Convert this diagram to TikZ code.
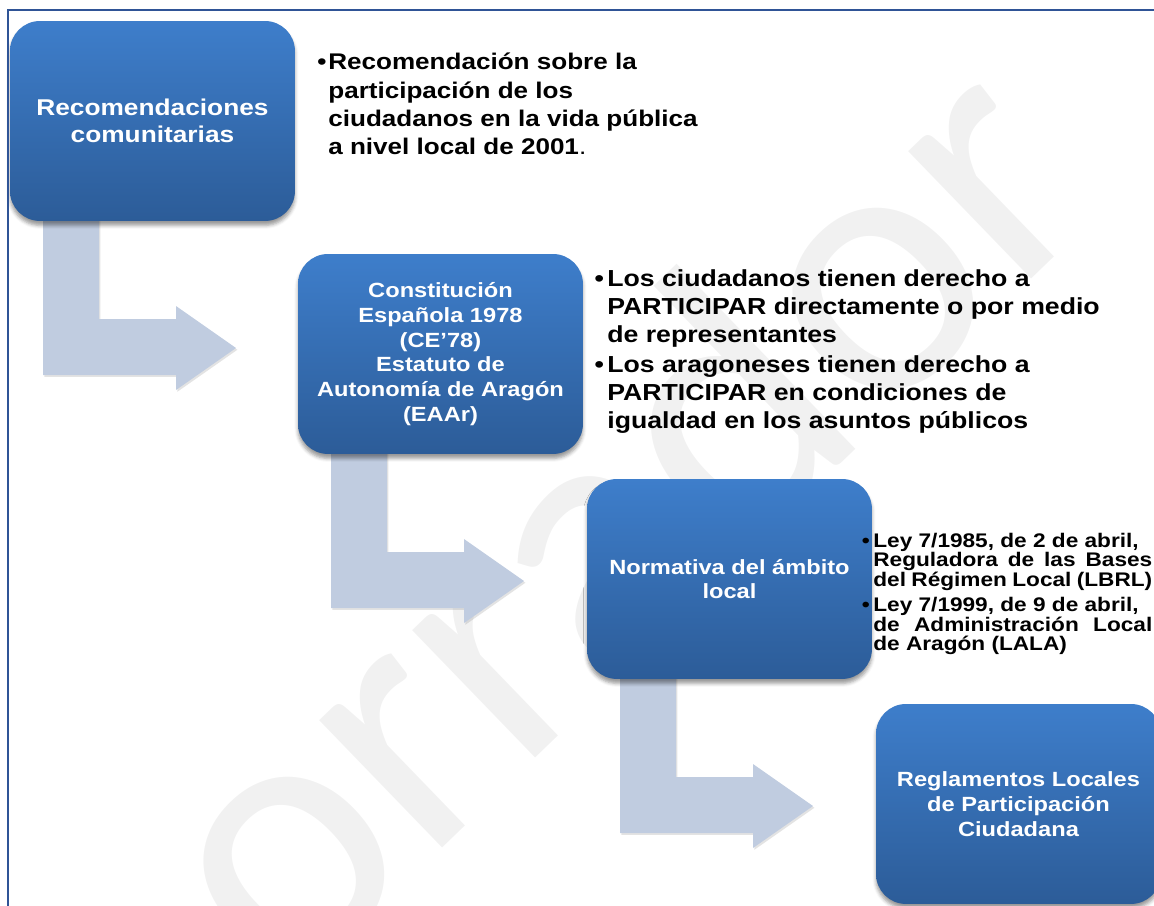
\documentclass[tikz,border=0pt]{standalone}
\usepackage{fontspec}
\usepackage{xcolor}
\usetikzlibrary{calc,shadows,shadows.blur}
\setmainfont{Liberation Sans}
\newfontfamily\arialx[FakeStretch=1.15]{Liberation Sans}
\newfontfamily\wmfont{Carlito}

\definecolor{boxtop}{RGB}{62,126,203}
\definecolor{boxbot}{RGB}{44,92,152}
\definecolor{arrowfill}{RGB}{192,204,224}
\definecolor{framecol}{RGB}{47,84,150}
\definecolor{wmgray}{RGB}{241,241,241}

\newcommand{\jline}[1]{\makebox[5.58cm][s]{#1}}

\begin{document}
\begin{tikzpicture}[x=0.02cm,y=-0.02cm,
    stepbox/.style={anchor=north west, inner sep=0pt, outer sep=0pt,
      minimum width=5.7cm, minimum height=4cm, rounded corners=0.6cm,
      top color=boxtop, bottom color=boxbot, text=white, align=center,
      blur shadow={shadow xshift=0pt, shadow yshift=-2.5pt, shadow blur radius=2pt, shadow opacity=40}},
    bentarrow/.style={fill=arrowfill,
      drop shadow={shadow xshift=0.8pt, shadow yshift=-1pt, opacity=0.22}},
    note/.style={anchor=north west, inner sep=0pt, align=left, text=black}]
		\useasboundingbox (0,0) rectangle (1154,906);
		\clip (0,0) rectangle (1154,906);

		\node[wmgray, rotate=44, anchor=base west, inner sep=0pt,
		  font=\wmfont\fontsize{211}{211}\selectfont] (wmark) at (285,1000) {orrador};% Watermark

		\coordinate (RecomNW) at (10,21);
		\coordinate (ConstNW) at (298,254);
		\coordinate (NormNW)  at (587,479);
		\coordinate (ReglNW)  at (876,704);

		\foreach \c in {RecomNW,ConstNW,NormNW}{% One bent arrow under each box
			\begin{scope}[shift={(\c)}]
				\fill[bentarrow] (33,190) -- (89,190) -- (89,298) -- (166,298) -- (166,285)
				  -- (226,327) -- (166,369) -- (166,354) -- (33,354) -- cycle;
			\end{scope}
		}

		\node[stepbox, font=\arialx\bfseries\fontsize{13}{15.3}\selectfont] (recom) at (RecomNW)
		  {Recomendaciones\\comunitarias};
		\node[stepbox, font=\arialx\bfseries\fontsize{11.7}{14.1}\selectfont] (const) at (ConstNW)
		  {Constitución\\Española 1978\\(CE’78)\\Estatuto de\\Autonomía de Aragón\\(EAAr)};
		\node[stepbox, font=\arialx\bfseries\fontsize{11.7}{14.1}\selectfont] (norm) at (NormNW)
		  {Normativa del ámbito\\local};
		\node[stepbox, font=\arialx\bfseries\fontsize{11.7}{14.1}\selectfont] (regl) at (ReglNW)
		  {Reglamentos Locales\\de Participación\\Ciudadana};

		\node[note, font=\arialx\bfseries\fontsize{12.9}{16}\selectfont] (recomtxt) at (328,53)
		  {\llap{•\hspace{1pt}}Recomendación sobre la\\participación de los\\ciudadanos en la vida pública\\a nivel local de 2001{\mdseries .}};
		\node[note, font=\arialx\bfseries\fontsize{13.2}{15.9}\selectfont] (consttxt) at (607,269)
		  {\llap{•\hspace{2pt}}Los ciudadanos tienen derecho a\\PARTICIPAR directamente o por medio\\de representantes\\[1.7pt]
		   \llap{•\hspace{2pt}}Los aragoneses tienen derecho a\\PARTICIPAR en condiciones de\\igualdad en los asuntos públicos};
		\node[note, font=\arialx\bfseries\fontsize{11.2}{11}\selectfont] (normtxt) at (873,533)
		  {\lineskiplimit=-20pt\llap{•\hspace{2pt}}Ley 7/1985, de 2 de abril,\\\jline{Reguladora de las Bases}\\\jline{del Régimen Local (LBRL)}\\[3.5pt]
		   \llap{•\hspace{2pt}}Ley 7/1999, de 9 de abril,\\\jline{de Administración Local}\\de Aragón (LALA)};

		\draw[framecol, line width=1.1pt] (8,906) -- (8,10) -- (1154,10);% Frame
\end{tikzpicture}
\end{document}
